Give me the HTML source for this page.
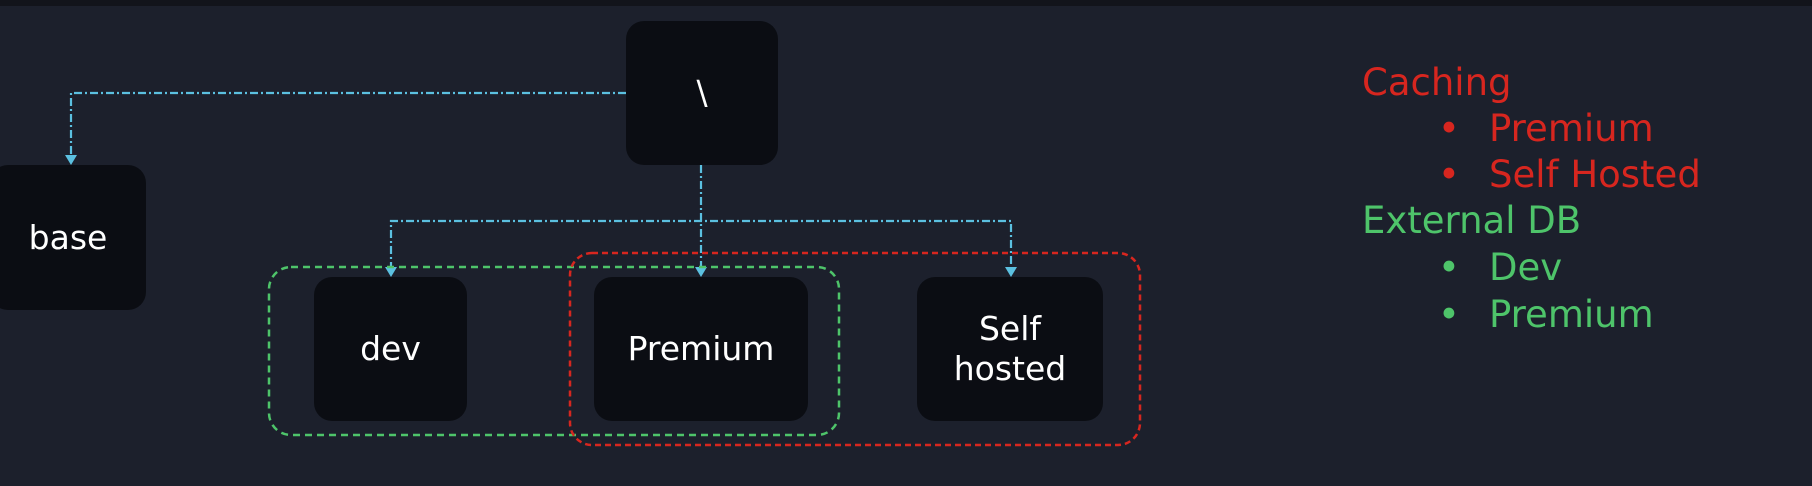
<!DOCTYPE html>
<html><head><meta charset="utf-8"><style>
html,body{margin:0;padding:0;}
body{width:1812px;height:486px;background:#1c202c;position:relative;overflow:hidden;font-family:"DejaVu Sans","Liberation Sans",sans-serif;}
.top{position:absolute;left:0;top:0;width:1812px;height:6px;background:#12141b;}
.n{position:absolute;background:#0b0d13;border-radius:18px;color:#fff;display:flex;align-items:center;justify-content:center;text-align:center;font-size:33px;line-height:40px;}
.t{position:absolute;font-size:37px;white-space:nowrap;}
.r{color:#d7261f}.g{color:#4ec46a}
</style></head><body>
<div class="top"></div>
<div class="n" style="left:626px;top:21px;width:152px;height:144px;">\</div>
<div class="n" style="left:-10px;top:165px;width:156px;height:145px;">base</div>
<div class="n" style="left:314px;top:277px;width:153px;height:144px;">dev</div>
<div class="n" style="left:594px;top:277px;width:214px;height:144px;">Premium</div>
<div class="n" style="left:917px;top:277px;width:186px;height:144px;">Self<br>hosted</div>
<svg width="1812" height="486" style="position:absolute;left:0;top:0">
<g fill="none" stroke="#5bc0e0" stroke-width="2.2" stroke-dasharray="8 3 2 3">
<path d="M626 93 H71 V158"/>
<path d="M701 165 V270"/>
<path d="M391 270 V221 H1011 V270"/>
</g>
<g fill="#5bc0e0">
<path d="M65 155 L77 155 L71 165 Z"/>
<path d="M695 267 L707 267 L701 277 Z"/>
<path d="M385 267 L397 267 L391 277 Z"/>
<path d="M1005 267 L1017 267 L1011 277 Z"/>
</g>
<rect x="269" y="267" width="570" height="168" rx="22" fill="none" stroke="#4ec46a" stroke-width="2.5" stroke-dasharray="7 5"/>
<rect x="570" y="253" width="570" height="192" rx="22" fill="none" stroke="#d7261f" stroke-width="2.5" stroke-dasharray="6 4"/>
</svg>
<div class="t r" style="left:1362px;top:61px;">Caching</div>
<div class="t r" style="left:1438px;top:107px;">•</div><div class="t r" style="left:1489px;top:107px;">Premium</div>
<div class="t r" style="left:1438px;top:153px;">•</div><div class="t r" style="left:1489px;top:153px;">Self Hosted</div>
<div class="t g" style="left:1362px;top:199px;">External DB</div>
<div class="t g" style="left:1438px;top:246px;">•</div><div class="t g" style="left:1489px;top:246px;">Dev</div>
<div class="t g" style="left:1438px;top:293px;">•</div><div class="t g" style="left:1489px;top:293px;">Premium</div>
</body></html>
